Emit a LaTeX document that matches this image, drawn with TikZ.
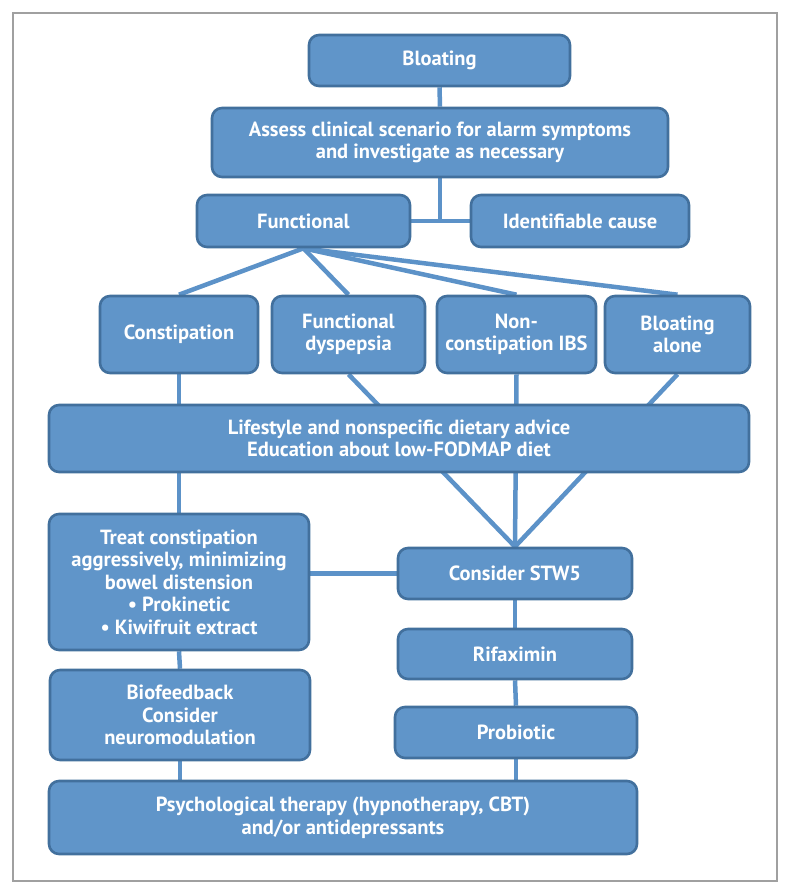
\documentclass[tikz,border=0pt]{standalone}
\usepackage{fontspec}
\setmainfont{PT Sans}
\usetikzlibrary{backgrounds}
\definecolor{boxfill}{RGB}{96,149,201}
\definecolor{boxborder}{RGB}{66,112,157}
\definecolor{linkcol}{RGB}{92,146,200}
\definecolor{framecol}{RGB}{160,160,160}
\tikzset{
  fbox/.style={draw=boxborder, fill=boxfill, line width=2.6pt, rounded corners=10pt,
    text=white, font=\bfseries\fontsize{20.5}{22.5}\selectfont, align=center, inner sep=0pt},
  link/.style={draw=linkcol, line width=4.5pt}
}
\begin{document}
\begin{tikzpicture}[x=1pt,y=-1pt]
\useasboundingbox (0,0) rectangle (789,896);
\draw[framecol, line width=1.3pt] (13,13) rectangle (777,881);

\node[fbox, minimum width=261pt, minimum height=51pt] (bloat) at (439.5,60.5) {Bloating};
\node[fbox, minimum width=456pt, minimum height=69pt] (assess) at (440,142.5) {Assess clinical scenario for alarm symptoms\\and investigate as necessary};
\node[fbox, minimum width=213pt, minimum height=52pt] (func) at (303.5,221) {Functional};
\node[fbox, minimum width=218pt, minimum height=52pt] (ident) at (580,221) {Identifiable cause};
\node[fbox, minimum width=158pt, minimum height=77pt] (const) at (179,334.5) {Constipation};
\node[fbox, minimum width=153pt, minimum height=77pt] (fd) at (348.5,334.5) {Functional\\dyspepsia};
\node[fbox, minimum width=159pt, minimum height=77pt] (ncibs) at (516.5,334.5) {Non-\\constipation IBS};
\node[fbox, minimum width=145pt, minimum height=77pt] (ba) at (677.5,334.5) {Bloating\\alone};
\node[fbox, minimum width=700pt, minimum height=67pt] (life) at (399,438.5) {Lifestyle and nonspecific dietary advice\\Education about low-FODMAP diet};
\node[fbox, minimum width=260pt, minimum height=136pt] (treat) at (179,582) {Treat constipation\\aggressively, minimizing\\bowel distension\\\textbullet{} Prokinetic\\\textbullet{} Kiwifruit extract};
\node[fbox, minimum width=234pt, minimum height=51pt] (stw) at (515,573.5) {Consider STW5};
\node[fbox, minimum width=234pt, minimum height=50pt] (rifax) at (515,654) {Rifaximin};
\node[fbox, minimum width=242pt, minimum height=51pt] (probio) at (516,732.5) {Probiotic};
\node[fbox, minimum width=260pt, minimum height=90pt] (bio) at (180,715) {Biofeedback\\Consider\\neuromodulation};
\node[fbox, minimum width=588pt, minimum height=73pt] (psych) at (343,817.5) {Psychological therapy (hypnotherapy, CBT)\\and/or antidepressants};

\begin{scope}[on background layer]
\draw[link] (bloat.south) -- (assess.north);
\draw[link] (assess.south) -- (assess.south |- func.east);
\draw[link] (func.east) -- (ident.west);
\draw[link] (func.south) -- (const.north);
\draw[link] (func.south) -- (fd.north);
\draw[link] (func.south) -- (ncibs.north);
\draw[link] (func.south) -- (ba.north);
\draw[link] (const.south) -- (treat.north);
\draw[link] (fd.south) -- (stw.north);
\draw[link] (ncibs.south) -- (stw.north);
\draw[link] (ba.south) -- (stw.north);
\draw[link] (treat.east |- stw.west) -- (stw.west);
\draw[link] (stw.south) -- (rifax.north);
\draw[link] (rifax.south) -- (probio.north);
\draw[link] (treat.south) -- (bio.north);
\draw[link] (bio.south) -- (bio.south |- psych.north);
\draw[link] (probio.south) -- (probio.south |- psych.north);
\end{scope}
\end{tikzpicture}
\end{document}
